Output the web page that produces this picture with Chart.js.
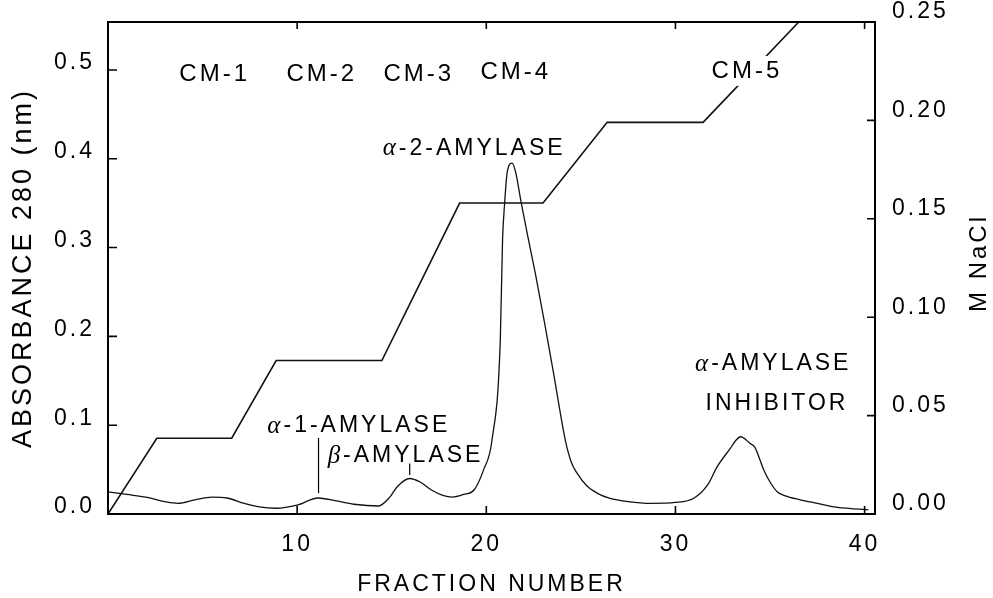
<!DOCTYPE html>
<html><head><meta charset="utf-8">
<script src="https://cdn.jsdelivr.net/npm/chart.js@4.4.1/dist/chart.umd.min.js"></script>
<style>html,body{margin:0;padding:0;background:#fff;}canvas{display:block;}</style>
</head><body>
<canvas id="c" width="993" height="598"></canvas>
<script>
// ---- data ----
const fractionX = [0,1,2,3,3.7,4.6,5.5,6.3,7.2,8.0,8.9,10.0,11.1,12.0,13.0,14.3,14.9,15.3,15.95,16.5,17.1,17.7,18.2,18.8,19.35,19.86,20.3,20.74,20.86,20.97,21.1,21.36,21.55,21.85,22.2,22.6,23.1,23.56,24.18,24.5,24.8,25.3,25.9,26.5,27.5,28.7,30.0,30.97,31.7,32.2,32.9,33.2,33.44,33.97,34.2,34.67,35.0,35.38,35.73,36.6,37.5,38.4,39.3,40.2];
const absorbance280 = [0.025,0.022,0.019,0.014,0.012,0.016,0.019,0.018,0.012,0.008,0.0065,0.010,0.018,0.015,0.011,0.009,0.019,0.031,0.040,0.036,0.027,0.021,0.019,0.022,0.027,0.050,0.083,0.196,0.309,0.350,0.384,0.395,0.385,0.350,0.312,0.270,0.213,0.158,0.083,0.058,0.046,0.032,0.023,0.018,0.014,0.012,0.013,0.0177,0.0327,0.053,0.074,0.083,0.087,0.079,0.075,0.0495,0.036,0.025,0.021,0.016,0.012,0.008,0.006,0.005];
const gradientX = [0,2.58,6.54,8.89,14.48,18.59,23.0,26.39,31.46,36.52,40.55];
const gradientNaCl = [0,0.0385,0.0385,0.078,0.078,0.158,0.158,0.199,0.199,0.25,0.25];
const xTickValues = [10,20,30,40];
const leftTickValues = [0,0.1,0.2,0.3,0.4,0.5];
const rightTickValues = [0,0.05,0.1,0.15,0.2,0.25];
const xTitle = 'FRACTION NUMBER';
const leftTitle = 'ABSORBANCE 280 (nm)';
const rightTitle = 'M NaCl';

// ---- styling / layout ----
const SANS = '"Liberation Sans", Arial, Helvetica, sans-serif';
const SERIF = '"Liberation Serif", "Times New Roman", serif';
const SPACING = '3px';
const sans = s => s + 'px ' + SANS;
const greek = s => 'italic ' + s + 'px ' + SERIF;

// annotations: text parts, anchored at (fraction, absorbance)
const annotations = [
  {parts: [['CM-1', sans(24)]], x: 5.56, y: 0.4955},
  {parts: [['CM-2', sans(24)]], x: 11.22, y: 0.4955},
  {parts: [['CM-3', sans(24)]], x: 16.35, y: 0.4955},
  {parts: [['CM-4', sans(24)]], x: 21.48, y: 0.4977},
  {parts: [['CM-5', sans(24)]], x: 33.7, y: 0.4989, box: true},
  {parts: [['α', greek(25)], ['-2-AMYLASE', sans(23)]], x: 19.28, y: 0.4118},
  {parts: [['α', greek(25)], ['-1-AMYLASE', sans(23)]], x: 13.18, y: 0.0991},
  {parts: [['β', greek(25)], ['-AMYLASE', sans(23)]], x: 15.65, y: 0.0653},
  {parts: [['α', greek(25)], ['-AMYLASE', sans(23)]], x: 35.09, y: 0.1689},
  {parts: [['INHIBITOR', sans(23)]], x: 35.29, y: 0.1239}
];
const leaders = [
  {x: 11.13, y0: 0.0236, y1: 0.0856},
  {x: 15.95, y0: 0.044, y1: 0.057}
];

function setSpacing(chart){ chart.ctx.letterSpacing = SPACING; }
const spacingPlugin = {
  id: 'spacing',
  beforeInit: setSpacing, beforeUpdate: setSpacing, beforeLayout: setSpacing, beforeDraw: setSpacing
};

function drawParts(ctx, parts, cx, cy, box) {
  let w = 0;
  const ms = parts.map(p => { ctx.font = p[1]; const m = ctx.measureText(p[0]).width; w += m; return m; });
  w -= 3;
  let x = cx - w / 2;
  if (box) {
    ctx.fillStyle = '#fff';
    ctx.fillRect(x - 4, cy - 15, w + 8, 30);
  }
  ctx.fillStyle = '#000';
  ctx.textAlign = 'left';
  ctx.textBaseline = 'middle';
  parts.forEach((p, i) => { ctx.font = p[1]; ctx.fillText(p[0], x, cy); x += ms[i]; });
}

const decorPlugin = {
  id: 'decor',
  afterDatasetsDraw(chart) {
    const ctx = chart.ctx;
    const a = chart.chartArea;
    const sx = chart.scales.x, sy = chart.scales.y, sr = chart.scales.y1;
    ctx.save();
    ctx.letterSpacing = SPACING;
    annotations.forEach(an => drawParts(ctx, an.parts, sx.getPixelForValue(an.x), sy.getPixelForValue(an.y), an.box));
    ctx.strokeStyle = '#000';
    ctx.lineWidth = 1.2;
    leaders.forEach(l => {
      const px = sx.getPixelForValue(l.x);
      ctx.beginPath();
      ctx.moveTo(px, sy.getPixelForValue(l.y0));
      ctx.lineTo(px, sy.getPixelForValue(l.y1));
      ctx.stroke();
    });
    ctx.lineWidth = 2;
    ctx.strokeRect(a.left, a.top, a.right - a.left, a.bottom - a.top);
    ctx.lineWidth = 1.6;
    ctx.beginPath();
    xTickValues.forEach(v => {
      const px = sx.getPixelForValue(v);
      ctx.moveTo(px, a.bottom); ctx.lineTo(px, a.bottom - 8);
      ctx.moveTo(px, a.top); ctx.lineTo(px, a.top + 7);
    });
    leftTickValues.forEach(v => {
      if (v === 0) return;
      const py = sy.getPixelForValue(v);
      ctx.moveTo(a.left, py); ctx.lineTo(a.left + 9, py);
    });
    rightTickValues.forEach(v => {
      if (v === 0) return;
      const py = sr.getPixelForValue(v);
      ctx.moveTo(a.right, py); ctx.lineTo(a.right - 8, py);
    });
    ctx.stroke();
    ctx.translate(979, (a.top + a.bottom) / 2 - 5);
    ctx.rotate(-Math.PI / 2);
    ctx.font = sans(24);
    ctx.fillStyle = '#000';
    ctx.textAlign = 'center';
    ctx.textBaseline = 'middle';
    ctx.fillText(rightTitle, 0, 0);
    ctx.restore();
  }
};

function zeroPad(s) { s.paddingTop = 0; s.paddingBottom = 0; s.paddingLeft = 0; s.paddingRight = 0; }

new Chart(document.getElementById('c'), {
  type: 'line',
  data: {
    datasets: [
      {
        label: 'Absorbance 280',
        data: fractionX.map((x, i) => ({x, y: absorbance280[i]})),
        yAxisID: 'y',
        borderColor: '#111',
        borderWidth: 1.3,
        pointRadius: 0,
        fill: false,
        cubicInterpolationMode: 'monotone'
      },
      {
        label: 'M NaCl',
        data: gradientX.map((x, i) => ({x, y: gradientNaCl[i]})),
        yAxisID: 'y1',
        borderColor: '#111',
        borderWidth: 1.6,
        pointRadius: 0,
        fill: false,
        tension: 0
      }
    ]
  },
  options: {
    responsive: false,
    animation: false,
    devicePixelRatio: 1,
    events: [],
    layout: {padding: {top: 22, left: 0, right: 0, bottom: 0}},
    plugins: {legend: {display: false}, tooltip: {enabled: false}},
    scales: {
      x: {
        type: 'linear', min: 0, max: 40.55,
        afterBuildTicks: s => { s.ticks = xTickValues.map(v => ({value: v})); },
        afterFit: s => { s.height = 84; zeroPad(s); },
        grid: {display: false, drawTicks: false},
        border: {display: false},
        ticks: {color: '#000', font: {family: SANS, size: 23}, padding: 17, maxRotation: 0, autoSkip: false,
                callback: v => String(v)},
        title: {display: true, text: xTitle, color: '#000', font: {family: SANS, size: 23}, padding: {top: 0, bottom: 0}}
      },
      y: {
        type: 'linear', position: 'left', min: 0, max: 0.554,
        afterBuildTicks: s => { s.ticks = leftTickValues.map(v => ({value: v})); },
        afterFit: s => { s.width = 108; zeroPad(s); },
        grid: {display: false, drawTicks: false},
        border: {display: false},
        ticks: {color: '#000', font: {family: SANS, size: 23}, padding: 13, labelOffset: -7,
                callback: v => Number(v).toFixed(1)},
        title: {display: true, text: leftTitle, color: '#000', font: {family: SANS, size: 27}, padding: {top: 7, bottom: 0}}
      },
      y1: {
        type: 'linear', position: 'right', min: 0, max: 0.25,
        afterBuildTicks: s => { s.ticks = rightTickValues.map(v => ({value: v})); },
        afterFit: s => { s.width = 118; zeroPad(s); },
        grid: {display: false, drawTicks: false},
        border: {display: false},
        ticks: {color: '#000', font: {family: SANS, size: 23}, padding: 17,
                labelOffset: c => (c.tick && c.tick.value >= 0.25) ? -2 : (c.tick && c.tick.value === 0 ? -15 : -10),
                callback: v => Number(v).toFixed(2)}
      }
    }
  },
  plugins: [spacingPlugin, decorPlugin]
});
</script>
</body></html>
